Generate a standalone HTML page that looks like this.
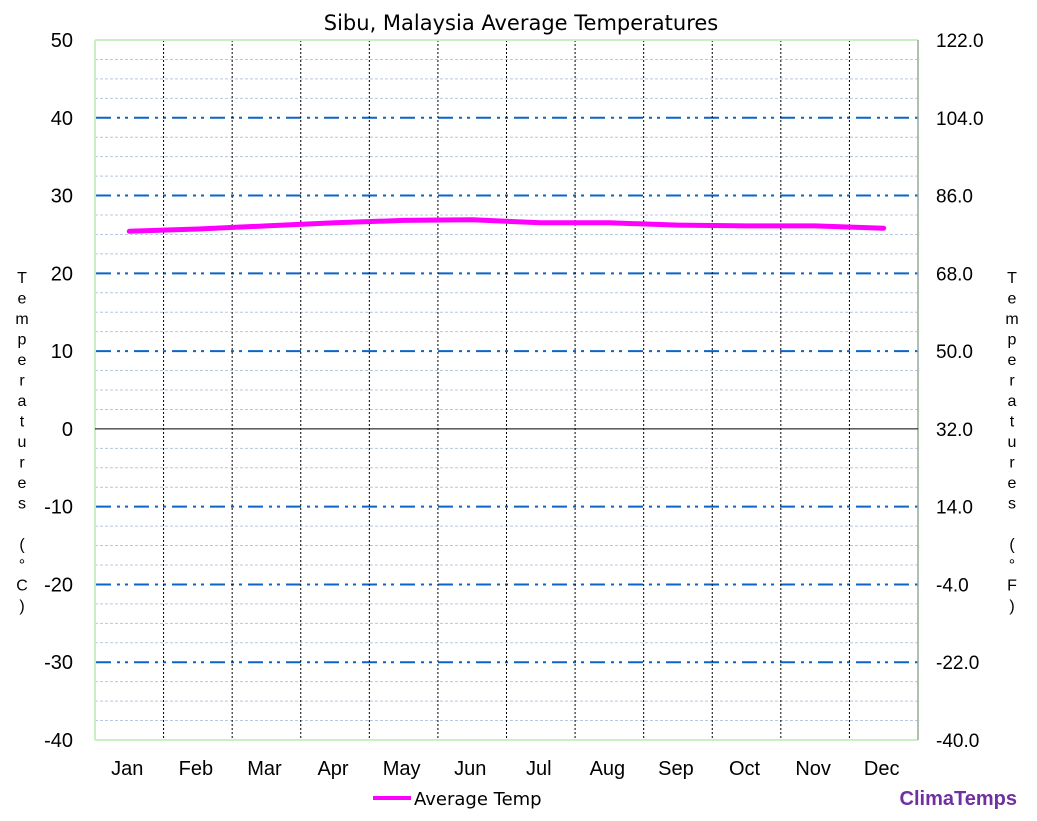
<!DOCTYPE html>
<html><head><meta charset="utf-8"><style>
body{margin:0;background:#fff;width:1037px;height:821px;overflow:hidden;font-family:"Liberation Sans",sans-serif}
svg{display:block}
</style></head><body>
<svg id="chart" width="1037" height="821" font-family="Liberation Sans, sans-serif"></svg>
<script>
const months=["Jan","Feb","Mar","Apr","May","Jun","Jul","Aug","Sep","Oct","Nov","Dec"];
const avgTemp=[25.4,25.7,26.1,26.5,26.8,26.9,26.5,26.5,26.2,26.1,26.1,25.8];
const cTicks=[50,40,30,20,10,0,-10,-20,-30,-40];
const fTicks=["122.0","104.0","86.0","68.0","50.0","32.0","14.0","-4.0","-22.0","-40.0"];
const L=95,R=918,T=40,B=740,cMin=-40,cMax=50;
const NS="http://www.w3.org/2000/svg";
const svg=document.getElementById('chart');
function y(v){return B-(v-cMin)/(cMax-cMin)*(B-T);}
const colW=(R-L)/months.length;
function x(i){return L+colW*(i+0.5);}
function el(t,a,txt){const e=document.createElementNS(NS,t);for(const k in a)e.setAttribute(k,a[k]);if(txt!==undefined)e.textContent=txt;svg.appendChild(e);return e;}
// title
let e=el('text',{x:521,y:30,'text-anchor':'middle','font-size':21,'font-family':'DejaVu Sans, sans-serif'},'Sibu, Malaysia Average Temperatures');


// minor grid
for(let v=cMin;v<=cMax;v+=2.5){if(v%10===0)continue;
 e=el('line',{x1:L,x2:R,y1:y(v),y2:y(v),stroke:'#b8c8dc','stroke-width':1,'stroke-dasharray':'3,2'});
 
 }
// major grid
cTicks.forEach((v,i)=>{
 if(v!==0&&v!==cMax&&v!==cMin){
  e=el('line',{x1:L+1,x2:R,y1:y(v),y2:y(v),stroke:'#0b64c8','stroke-width':2,'stroke-dasharray':'15,6,3,5,3,6'});
  
  }
 e=el('text',{x:73,y:y(v)+7,'text-anchor':'end','font-size':20},String(v));
 
 
 e=el('text',{x:936,y:y(v)+7,'font-size':19},fTicks[i]);
 
 
});
// month dividers
for(let i=1;i<months.length;i++){
 e=el('line',{x1:L+colW*i,x2:L+colW*i,y1:T,y2:B,stroke:'#000','stroke-width':1,'stroke-dasharray':'2,2'});
 
 }
months.forEach((m,i)=>{
 e=el('text',{x:x(i)-2,y:775,'text-anchor':'middle','font-size':20},m);
 
 });
// borders
e=el('line',{x1:L,x2:R,y1:T,y2:T,stroke:'#c8f0c0','stroke-width':2});
e=el('line',{x1:L,x2:R,y1:B,y2:B,stroke:'#c8f0c0','stroke-width':2});
e=el('line',{x1:L,x2:L,y1:T,y2:B,stroke:'#c8f0c0','stroke-width':2});
e=el('line',{x1:R,x2:R,y1:T,y2:B,stroke:'#9aaa9a','stroke-width':1.5});
e=el('line',{x1:L,x2:R,y1:y(0),y2:y(0),stroke:'#000','stroke-width':1});
// series
const pts=avgTemp.map((v,i)=>x(i).toFixed(1)+','+y(v).toFixed(1)).join(' ');
e=el('polyline',{points:pts,fill:'none',stroke:'#ff00ff','stroke-width':5,'stroke-linecap':'round','stroke-linejoin':'round'});


// axis titles vertical
const lt=["T","e","m","p","e","r","a","t","u","r","e","s","","(","°","C",")"];
const rt=["T","e","m","p","e","r","a","t","u","r","e","s","","(","°","F",")"];
function vtitle(arr,cx,name){const g=document.createElementNS(NS,'text');g.setAttribute('font-size',16);g.setAttribute('text-anchor','middle');
 
 
 arr.forEach((c,i)=>{const s=document.createElementNS(NS,'tspan');s.setAttribute('x',cx);s.setAttribute('y',283+i*20.5);s.textContent=c;g.appendChild(s);});svg.appendChild(g);}
vtitle(lt,22,'celsius-axis-title');vtitle(rt,1012,'fahrenheit-axis-title');
// legend
e=el('line',{x1:373,x2:411,y1:798,y2:798,stroke:'#ff00ff','stroke-width':4});
e=el('text',{x:414,y:805,'font-size':18,'font-family':'DejaVu Sans, sans-serif'},'Average Temp');
e=el('text',{x:1017,y:805,'text-anchor':'end','font-size':20,'font-weight':'bold',fill:'#7030a0'},'ClimaTemps');
</script>
</body></html>
